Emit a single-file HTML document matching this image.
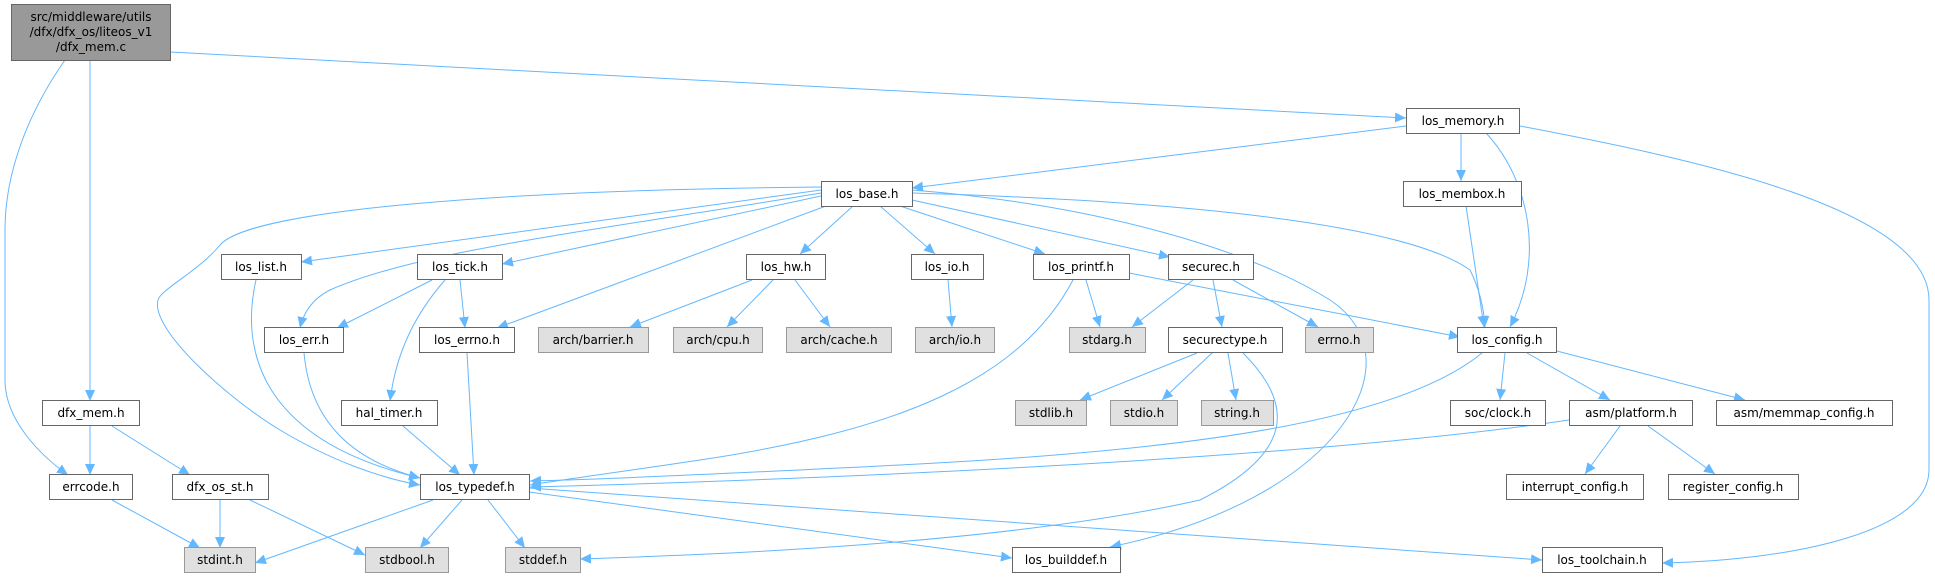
<!DOCTYPE html>
<html><head><meta charset="utf-8"><style>
html,body{margin:0;padding:0;background:#fff;width:1935px;height:579px;overflow:hidden}
svg text{font-family:"DejaVu Sans","Liberation Sans",sans-serif;font-size:12px;fill:#000;text-anchor:middle}
.n{fill:#fff;stroke:#666;stroke-width:1}
.g{fill:#e0e0e0;stroke:#999;stroke-width:1}
.e{fill:none;stroke:#63b8ff;stroke-width:1}
</style></head><body>
<svg width="1935" height="579" viewBox="0 0 1935 579" xmlns="http://www.w3.org/2000/svg">
<defs><marker id="a" markerWidth="12" markerHeight="10" refX="11" refY="5" orient="auto" markerUnits="userSpaceOnUse"><path d="M0,0 L11,5 L0,10 Z" fill="#63b8ff"/></marker></defs>
<g marker-end="url(#a)">
<path class="e" d="M90,60 L90,401"/>
<path class="e" d="M65,60 C30,110 5,170 5,230 L5,380 C5,420 40,455 68,475"/>
<path class="e" d="M170,52 L1406,118"/>
<path class="e" d="M1406,126 L912,188"/>
<path class="e" d="M1461,133 L1461,181"/>
<path class="e" d="M1486,133 C1530,180 1545,260 1510,327"/>
<path class="e" d="M1520,126 C1700,160 1929,210 1929,300 L1929,470 C1929,530 1800,560 1662,563"/>
<path class="e" d="M1466,206 L1484,327"/>
<path class="e" d="M821,190 L301,262"/>
<path class="e" d="M821,196 L502,264"/>
<path class="e" d="M821,193 C600,230 420,250 330,290 C310,300 303,315 300,328"/>
<path class="e" d="M826,206 L497,328"/>
<path class="e" d="M821,187 C500,190 250,210 220,245 C200,270 160,290 158,300 C150,330 230,400 280,430 C330,460 380,478 420,485"/>
<path class="e" d="M853,206 L800,254"/>
<path class="e" d="M880,206 L935,254"/>
<path class="e" d="M900,206 L1045,254"/>
<path class="e" d="M912,200 L1170,257"/>
<path class="e" d="M912,193 C1150,200 1400,220 1470,270 C1480,290 1484,310 1485,327"/>
<path class="e" d="M912,190 C1100,205 1250,250 1330,300 C1420,360 1340,500 1110,547"/>
<path class="e" d="M256,280 C240,350 260,440 420,478"/>
<path class="e" d="M432,280 L337,328"/>
<path class="e" d="M460,280 L465,328"/>
<path class="e" d="M445,280 C410,320 395,360 390,401"/>
<path class="e" d="M304,353 C310,420 350,460 420,478"/>
<path class="e" d="M467,353 L474,475"/>
<path class="e" d="M403,426 L460,475"/>
<path class="e" d="M752,280 L630,327"/>
<path class="e" d="M773,280 L727,327"/>
<path class="e" d="M795,280 L830,327"/>
<path class="e" d="M948,280 L952,327"/>
<path class="e" d="M1086,280 L1100,327"/>
<path class="e" d="M1129,273 L1460,337"/>
<path class="e" d="M1073,280 C1020,380 900,430 700,460 C620,472 560,480 530,485"/>
<path class="e" d="M1193,280 L1132,327"/>
<path class="e" d="M1213,280 L1222,327"/>
<path class="e" d="M1233,280 L1318,327"/>
<path class="e" d="M1197,353 L1080,400"/>
<path class="e" d="M1212,353 L1162,400"/>
<path class="e" d="M1228,353 L1236,400"/>
<path class="e" d="M1243,353 C1290,400 1300,450 1200,500 C1000,545 700,555 580,559"/>
<path class="e" d="M1482,353 C1400,420 1200,450 900,465 C700,475 580,480 530,481"/>
<path class="e" d="M1505,353 L1500,400"/>
<path class="e" d="M1527,353 L1610,400"/>
<path class="e" d="M1553,350 L1745,400"/>
<path class="e" d="M1569,420 C1300,460 800,480 530,487"/>
<path class="e" d="M1620,426 L1585,474"/>
<path class="e" d="M1648,426 L1715,474"/>
<path class="e" d="M90,426 L90,475"/>
<path class="e" d="M112,426 L190,475"/>
<path class="e" d="M112,500 L200,548"/>
<path class="e" d="M220,500 L220,548"/>
<path class="e" d="M250,500 L365,555"/>
<path class="e" d="M433,500 L255,563"/>
<path class="e" d="M462,500 L420,548"/>
<path class="e" d="M488,500 L525,548"/>
<path class="e" d="M529,492 L1012,558"/>
<path class="e" d="M529,488 L1542,560"/>
</g>
<rect x="11.5" y="4.5" width="159" height="56" fill="#999" stroke="#666"/>
<text x="91" y="21">src/middleware/utils</text>
<text x="91" y="36">/dfx/dfx_os/liteos_v1</text>
<text x="91" y="51">/dfx_mem.c</text>
<rect class="n" x="1406.5" y="108.5" width="113" height="25"/><text x="1463" y="125">los_memory.h</text>
<rect class="n" x="1403.5" y="181.5" width="118" height="25"/><text x="1462" y="198">los_membox.h</text>
<rect class="n" x="821.5" y="181.5" width="91" height="25"/><text x="867" y="198">los_base.h</text>
<rect class="n" x="221.5" y="254.5" width="80" height="25"/><text x="261" y="271">los_list.h</text>
<rect class="n" x="417.5" y="254.5" width="85" height="25"/><text x="460" y="271">los_tick.h</text>
<rect class="n" x="746.5" y="254.5" width="79" height="25"/><text x="786" y="271">los_hw.h</text>
<rect class="n" x="911.5" y="254.5" width="72" height="25"/><text x="947" y="271">los_io.h</text>
<rect class="n" x="1033.5" y="254.5" width="96" height="25"/><text x="1081" y="271">los_printf.h</text>
<rect class="n" x="1168.5" y="254.5" width="85" height="25"/><text x="1211" y="271">securec.h</text>
<rect class="n" x="264.5" y="327.5" width="79" height="25"/><text x="304" y="344">los_err.h</text>
<rect class="n" x="419.5" y="327.5" width="95" height="25"/><text x="467" y="344">los_errno.h</text>
<rect class="g" x="538.5" y="327.5" width="110" height="25"/><text x="593" y="344">arch/barrier.h</text>
<rect class="g" x="673.5" y="327.5" width="89" height="25"/><text x="718" y="344">arch/cpu.h</text>
<rect class="g" x="786.5" y="327.5" width="105" height="25"/><text x="839" y="344">arch/cache.h</text>
<rect class="g" x="915.5" y="327.5" width="79" height="25"/><text x="955" y="344">arch/io.h</text>
<rect class="g" x="1069.5" y="327.5" width="76" height="25"/><text x="1107" y="344">stdarg.h</text>
<rect class="n" x="1168.5" y="327.5" width="114" height="25"/><text x="1225" y="344">securectype.h</text>
<rect class="g" x="1305.5" y="327.5" width="68" height="25"/><text x="1339" y="344">errno.h</text>
<rect class="n" x="1457.5" y="327.5" width="99" height="25"/><text x="1507" y="344">los_config.h</text>
<rect class="n" x="42.5" y="400.5" width="97" height="25"/><text x="91" y="417">dfx_mem.h</text>
<rect class="n" x="341.5" y="400.5" width="96" height="25"/><text x="389" y="417">hal_timer.h</text>
<rect class="g" x="1015.5" y="400.5" width="71" height="25"/><text x="1051" y="417">stdlib.h</text>
<rect class="g" x="1110.5" y="400.5" width="67" height="25"/><text x="1144" y="417">stdio.h</text>
<rect class="g" x="1201.5" y="400.5" width="72" height="25"/><text x="1237" y="417">string.h</text>
<rect class="n" x="1450.5" y="400.5" width="95" height="25"/><text x="1498" y="417">soc/clock.h</text>
<rect class="n" x="1569.5" y="400.5" width="123" height="25"/><text x="1631" y="417">asm/platform.h</text>
<rect class="n" x="1716.5" y="400.5" width="176" height="25"/><text x="1804" y="417">asm/memmap_config.h</text>
<rect class="n" x="49.5" y="474.5" width="83" height="25"/><text x="91" y="491">errcode.h</text>
<rect class="n" x="172.5" y="474.5" width="96" height="25"/><text x="220" y="491">dfx_os_st.h</text>
<rect class="n" x="420.5" y="474.5" width="109" height="25"/><text x="475" y="491">los_typedef.h</text>
<rect class="n" x="1506.5" y="474.5" width="137" height="25"/><text x="1575" y="491">interrupt_config.h</text>
<rect class="n" x="1668.5" y="474.5" width="130" height="25"/><text x="1733" y="491">register_config.h</text>
<rect class="g" x="184.5" y="547.5" width="71" height="25"/><text x="220" y="564">stdint.h</text>
<rect class="g" x="365.5" y="547.5" width="83" height="25"/><text x="407" y="564">stdbool.h</text>
<rect class="g" x="505.5" y="547.5" width="75" height="25"/><text x="543" y="564">stddef.h</text>
<rect class="n" x="1012.5" y="547.5" width="108" height="25"/><text x="1066" y="564">los_builddef.h</text>
<rect class="n" x="1542.5" y="547.5" width="120" height="25"/><text x="1602" y="564">los_toolchain.h</text>
</svg>
</body></html>
